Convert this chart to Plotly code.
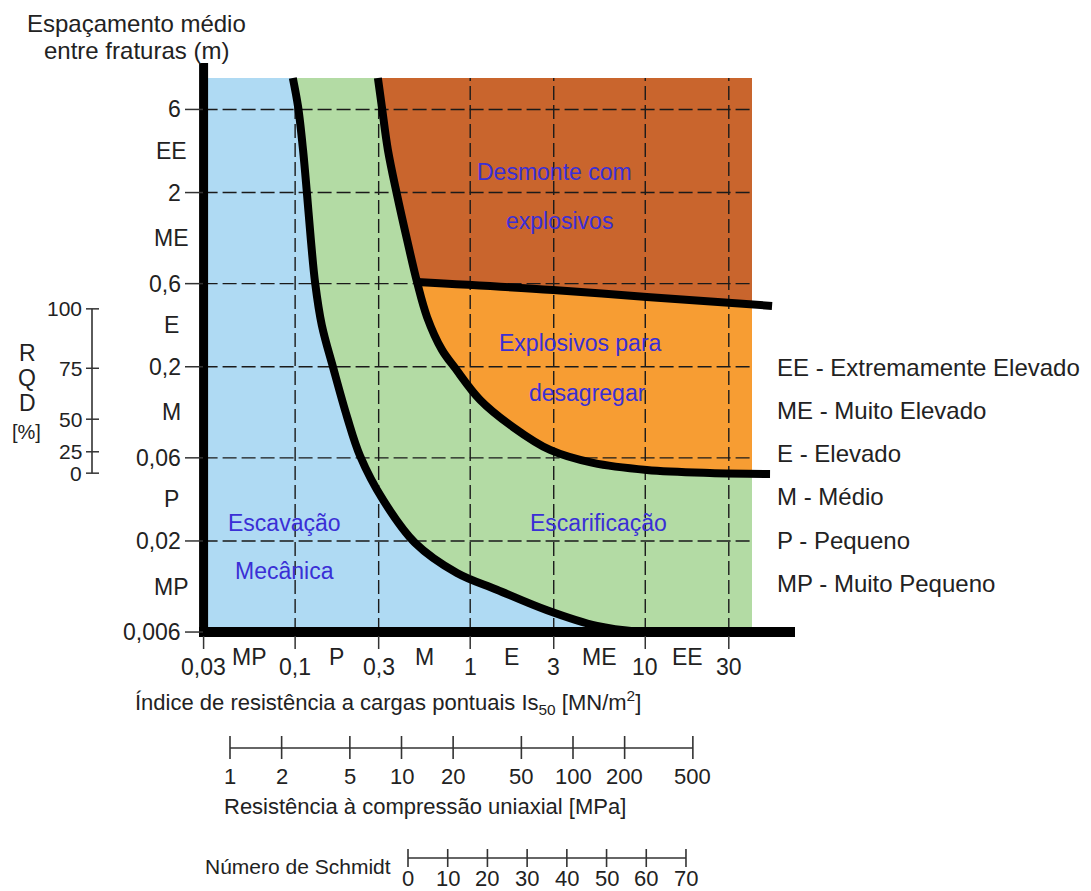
import math
import plotly.graph_objects as go

W, H = 1091, 891

# ---------------- data ----------------
# point-load strength index Is50 (MN/m2), bottom axis
is50_ticks = [0.03, 0.1, 0.3, 1, 3, 10, 30]
is50_labels = ["0,03", "0,1", "0,3", "1", "3", "10", "30"]
is50_classes = ["MP", "P", "M", "E", "ME", "EE"]

# mean fracture spacing (m), left axis
spacing_ticks = [6, 2, 0.6, 0.2, 0.06, 0.02, 0.006]
spacing_labels = ["6", "2", "0,6", "0,2", "0,06", "0,02", "0,006"]
spacing_classes = ["EE", "ME", "E", "M", "P", "MP"]

# RQD (%) and the equivalent fracture spacing (m)
rqd_values = [100, 75, 50, 25, 0]
rqd_spacing = [0.43, 0.196, 0.10, 0.065, 0.049]

# auxiliary scales
ucs_ticks = [1, 2, 5, 10, 20, 50, 100, 200, 500]
schmidt_ticks = [0, 10, 20, 30, 40, 50, 60, 70]

# boundary: mechanical excavation | ripping
mech_is50 = [0.097, 0.104, 0.111, 0.117, 0.123, 0.130, 0.142, 0.165, 0.198, 0.235,
             0.318, 0.484, 0.84, 1.42, 2.75, 5.3, 9.3]
mech_spacing = [9.1, 6.2, 3.5, 1.94, 1.07, 0.61, 0.347, 0.197, 0.103, 0.0615,
                0.0344, 0.0195, 0.0131, 0.0105, 0.0080, 0.0065, 0.006]

# boundary: ripping | blasting
blast_is50 = [0.297, 0.313, 0.339, 0.382, 0.436, 0.497, 0.567, 0.69, 0.819, 1.14,
              1.76, 2.86, 5.03, 10.2, 23.4, 51.6]
blast_spacing = [9.1, 6.2, 3.5, 1.94, 1.07, 0.613, 0.386, 0.25, 0.197, 0.129,
                 0.090, 0.0666, 0.0561, 0.0511, 0.0491, 0.0485]

# boundary: blasting to loosen | blasting to excavate
split_is50 = [0.497, 2.97, 10.2, 53]
split_spacing = [0.613, 0.552, 0.503, 0.447]

legend_lines = [
    "EE - Extremamente Elevado",
    "ME - Muito Elevado",
    "E - Elevado",
    "M - Médio",
    "P - Pequeno",
    "MP - Muito Pequeno",
]

# ---------------- styling / layout ----------------
FONT = "Liberation Sans, Arial, sans-serif"
TXT = "#222222"
REGION_TXT = "#3a2fd6"
BLUE = "#afdaf3"
GREEN = "#b3dba4"
BROWN = "#c9652d"
ORANGE = "#f79d33"

X0 = is50_ticks[0]
Y0 = spacing_ticks[-1]
XR = 40.7      # right edge of the coloured panel
YT = 9.1       # top edge of the coloured panel


def PX(px):
    return px / W


def PY(py):
    return 1 - py / H


def clip_right(xs, ys, xmax):
    ox, oy = [], []
    for i, (x, y) in enumerate(zip(xs, ys)):
        if x <= xmax:
            ox.append(x)
            oy.append(y)
        else:
            lx0, lx1 = math.log10(xs[i - 1]), math.log10(x)
            ly0, ly1 = math.log10(ys[i - 1]), math.log10(y)
            t = (math.log10(xmax) - lx0) / (lx1 - lx0)
            ox.append(xmax)
            oy.append(10 ** (ly0 + t * (ly1 - ly0)))
            break
    return ox, oy


fig = go.Figure()


def add_line(x, y, xaxis="x", yaxis="y", **kw):
    fig.add_trace(go.Scatter(x=x, y=y, xaxis=xaxis, yaxis=yaxis, mode="lines",
                             hoverinfo="skip", showlegend=False, **kw))


# ---- coloured zones ----
add_line([X0, XR, XR, X0, X0], [Y0, Y0, YT, YT, Y0],
         fill="toself", fillcolor=GREEN, line=dict(width=0))

bx, by = clip_right(blast_is50, blast_spacing, XR)
add_line(bx + [XR, bx[0]], by + [YT, by[0]],
         fill="toself", fillcolor=BROWN, line=dict(width=0))

i0 = blast_is50.index(split_is50[0])
ox, oy = clip_right(blast_is50[i0:], blast_spacing[i0:], XR)
sx, sy = clip_right(split_is50, split_spacing, XR)
add_line(ox + sx[::-1], oy + sy[::-1],
         fill="toself", fillcolor=ORANGE, line=dict(width=0))

add_line([X0] + mech_is50 + [X0], [YT] + mech_spacing + [Y0],
         fill="toself", fillcolor=BLUE, line=dict(width=0))

# ---- dashed grid ----
gx, gy = [], []
for v in is50_ticks[1:]:
    gx += [v, v, None]
    gy += [Y0, YT, None]
for v in spacing_ticks[:-1]:
    gx += [X0, XR, None]
    gy += [v, v, None]
add_line(gx, gy, line=dict(color="#1a1a1a", width=1.4, dash="14px,5px"))

# ---- zone boundaries ----
for xs, ys in [(mech_is50, mech_spacing), (blast_is50, blast_spacing), (split_is50, split_spacing)]:
    add_line(xs, ys, line=dict(color="black", width=8, shape="spline", smoothing=1.0))

# ---- auxiliary scales (UCS and Schmidt) on overlaid axes ----
Y_UCS = PY(748)
Y_SCH = PY(858)
ux, uy = [ucs_ticks[0], ucs_ticks[-1], None], [Y_UCS, Y_UCS, None]
for v in ucs_ticks:
    ux += [v, v, None]
    uy += [PY(736), PY(759), None]
add_line(ux, uy, xaxis="x2", yaxis="y2", line=dict(color="#333333", width=1.6))

shx, shy = [schmidt_ticks[0], schmidt_ticks[-1], None], [Y_SCH, Y_SCH, None]
for v in schmidt_ticks:
    shx += [v, v, None]
    shy += [PY(849), PY(867), None]
add_line(shx, shy, xaxis="x3", yaxis="y2", line=dict(color="#333333", width=1.6))

# ---- shapes: thick axes, ticks, RQD scale ----
shapes = []
shapes.append(dict(type="line", xref="paper", yref="y", x0=PX(199), x1=PX(795), y0=Y0, y1=Y0,
                   line=dict(color="black", width=10)))
shapes.append(dict(type="line", xref="x", yref="paper", x0=X0, x1=X0, y0=PY(636), y1=PY(63),
                   line=dict(color="black", width=9)))
for v in spacing_ticks:
    shapes.append(dict(type="line", xref="paper", yref="y", x0=PX(185), x1=PX(203), y0=v, y1=v,
                       line=dict(color="#333333", width=1.5)))
for v in is50_ticks:
    shapes.append(dict(type="line", xref="x", yref="paper", x0=v, x1=v, y0=PY(636), y1=PY(649),
                       line=dict(color="#333333", width=1.5)))
shapes.append(dict(type="line", xref="paper", yref="y", x0=PX(92), x1=PX(92),
                   y0=rqd_spacing[0], y1=rqd_spacing[-1], line=dict(color="#333333", width=1.6)))
for v in rqd_spacing:
    shapes.append(dict(type="line", xref="paper", yref="y", x0=PX(86), x1=PX(99), y0=v, y1=v,
                       line=dict(color="#333333", width=1.5)))

# ---- text ----
ann = []


def text(s, x, y, size=23, color=TXT, xanchor="center", xref="paper", yref="paper"):
    ann.append(dict(text=s, x=x, y=y, xref=xref, yref=yref, xanchor=xanchor, yanchor="middle",
                    showarrow=False, font=dict(family=FONT, size=size, color=color)))


text("Espaçamento médio", PX(136), PY(24), size=24)
text("entre fraturas (m)", PX(136), PY(51), size=24)

for v, s in zip(spacing_ticks, spacing_labels):
    text(s, PX(183), math.log10(v), xanchor="right", yref="y")
for a, b, s in zip(spacing_ticks[:-1], spacing_ticks[1:], spacing_classes):
    text(s, PX(171), (math.log10(a) + math.log10(b)) / 2, yref="y")

for v, s in zip(is50_ticks, is50_labels):
    text(s, math.log10(v), PY(667), xref="x")
for a, b, s in zip(is50_ticks[:-1], is50_ticks[1:], is50_classes):
    text(s, (math.log10(a) + math.log10(b)) / 2, PY(657), xref="x")

text("Índice de resistência a cargas pontuais Is<sub>50</sub> [MN/m<sup>2</sup>]",
     PX(133), PY(702), size=22, xanchor="left")
for v in ucs_ticks:
    text(str(v), math.log10(v), PY(776), size=22, xref="x2")
text("Resistência à compressão uniaxial [MPa]", PX(425), PY(806), size=22)

text("Número de Schmidt", PX(393), PY(866), size=21, xanchor="right")
for v in schmidt_ticks:
    text(str(v), v, PY(878), size=22, xref="x3")

for v, s in zip(rqd_spacing, rqd_values):
    text(str(s), PX(84), math.log10(v), size=21, xanchor="right", yref="y")
for s, py in zip(["R", "Q", "D"], [353, 378, 403]):
    text(s, PX(27), PY(py), size=23)
text("[%]", PX(26), PY(432), size=20)

for i, s in enumerate(legend_lines):
    text(s, PX(775), PY(367 + i * 43.3), size=24, xanchor="left")

text("Desmonte com", PX(554), PY(172), color=REGION_TXT)
text("explosivos", PX(559), PY(221), color=REGION_TXT)
text("Explosivos para", PX(580), PY(343), color=REGION_TXT)
text("desagregar", PX(587), PY(393), color=REGION_TXT)
text("Escarificação", PX(598), PY(523), color=REGION_TXT)
text("Escavação", PX(284), PY(523), color=REGION_TXT)
text("Mecânica", PX(284), PY(571), color=REGION_TXT)

fig.update_layout(
    width=W, height=H,
    margin=dict(l=0, r=0, t=0, b=0, pad=0),
    paper_bgcolor="white", plot_bgcolor="white",
    showlegend=False,
    xaxis=dict(type="log", range=[-2.6858, 3.5460], domain=[0, 1], visible=False, fixedrange=True),
    yaxis=dict(type="log", range=[-3.7084, 1.4064], domain=[0, 1], visible=False, fixedrange=True),
    xaxis2=dict(type="log", range=[-1.3411, 5.0204], overlaying="x", anchor="y2", visible=False),
    xaxis3=dict(type="linear", range=[-102.74, 171.99], overlaying="x", anchor="y2", visible=False),
    yaxis2=dict(type="linear", range=[0, 1], overlaying="y", anchor="x2", visible=False),
    shapes=shapes,
    annotations=ann,
)

fig.write_html("out.html")
